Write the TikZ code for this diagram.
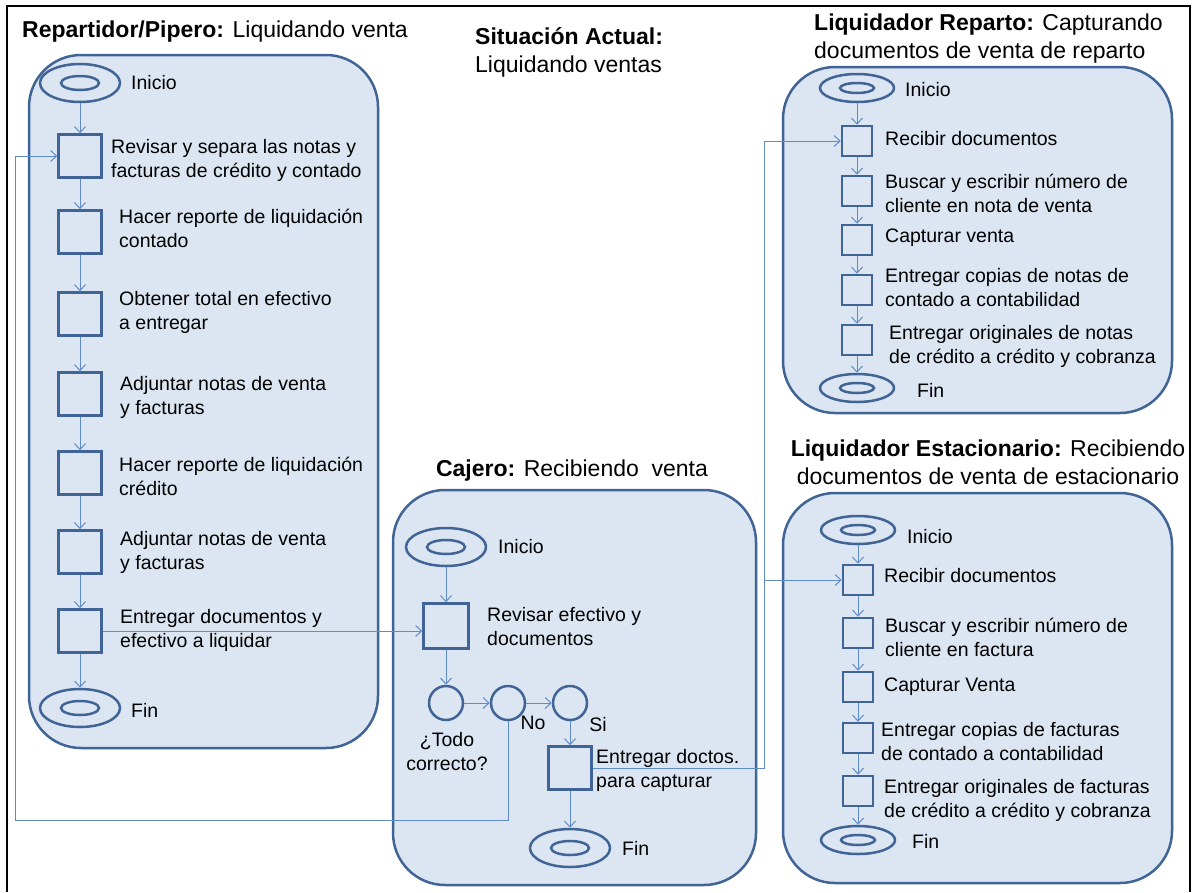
\documentclass[tikz,border=0pt]{standalone}
\usepackage{fontspec}
\setmainfont{Liberation Sans}
\usetikzlibrary{shapes.geometric,arrows.meta}
\definecolor{panelfill}{RGB}{220,230,242}
\definecolor{panelline}{RGB}{65,100,150}
\definecolor{flowline}{RGB}{95,140,200}
\newcommand{\bodyfont}{\fontsize{19.5}{24}\selectfont}
\newcommand{\headfont}{\fontsize{23}{28}\selectfont}
\tikzstyle{panel}=[draw=panelline, fill=panelfill, line width=2.5pt, rounded corners=52pt]
\tikzstyle{act}=[rectangle, draw=panelline, line width=2.5pt, minimum size=43pt, inner sep=0]
\tikzstyle{smallact}=[act, minimum size=30pt]
\tikzstyle{decision}=[circle, draw=panelline, line width=2.5pt, minimum size=34pt, inner sep=0]
\tikzstyle{term}=[%
	ellipse, draw=panelline, line width=2.5pt, minimum width=80pt, minimum height=38pt, inner sep=0,
	path picture={\draw[panelline, line width=2.5pt] (path picture bounding box.center) ellipse [x radius=19pt, y radius=7pt];}%
]
\tikzstyle{smallterm}=[%
	ellipse, draw=panelline, line width=2.5pt, minimum width=74pt, minimum height=28pt, inner sep=0,
	path picture={\draw[panelline, line width=2.5pt] (path picture bounding box.center) ellipse [x radius=17pt, y radius=5pt];}%
]
\tikzstyle{flow}=[draw=flowline, line width=1pt, ->]
\tikzstyle{txt}=[anchor=west, align=left, inner sep=0, font=\bodyfont]
\tikzstyle{head}=[inner sep=0, font=\headfont]

\begin{document}
\begin{tikzpicture}[x=1pt, y=-1pt, >={Straight Barb[length=6pt,width=11pt]}]
	\useasboundingbox (0,0) rectangle (1194,892);
	\draw[line width=2pt] (7,892) -- (7,6) -- (1190,6) -- (1190,892);

	% swimlanes
	\draw[panel] (29,55) rectangle (378,748);
	\draw[panel] (393,490) rectangle (756,885);
	\draw[panel] (783,67) rectangle (1172,413);
	\draw[panel] (783,493) rectangle (1172,883);

	\node[head, anchor=west] (tpip) at (22,32) {\textbf{Repartidor/Pipero:} Liquidando venta};
	\node[head, anchor=west, align=left] (tsit) at (475,52) {\textbf{Situación Actual:}\\Liquidando ventas};
	\node[head] (tcaj) at (572,471) {\textbf{Cajero:} Recibiendo\ \ venta};
	\node[head, anchor=west, align=left] (trep) at (814,39) {\textbf{Liquidador Reparto:} Capturando\\documentos de venta de reparto};
	\node[head, align=center] (test) at (988,462) {\textbf{Liquidador Estacionario:} Recibiendo\\documentos de venta de estacionario};

	% repartidor
	\node[term] (lini) at (80,83) {};
	\node[act] (l1) at (80,156) {};
	\node[act] (l2) at (80,232) {};
	\node[act] (l3) at (80,314) {};
	\node[act] (l4) at (80,394) {};
	\node[act] (l5) at (80,473) {};
	\node[act] (l6) at (80,552) {};
	\node[act] (l7) at (80,631) {};
	\node[term] (lfin) at (80,708) {};

	\node[txt] (linit) at (131,83) {Inicio};
	\node[txt] (l1t) at (111,160) {Revisar y separa las notas y\\facturas de crédito y contado};
	\node[txt] (l2t) at (119,228) {Hacer reporte de liquidación\\contado};
	\node[txt] (l3t) at (119,312) {Obtener total en efectivo\\a entregar};
	\node[txt] (l4t) at (120,397) {Adjuntar notas de venta\\y facturas};
	\node[txt] (l5t) at (119,476) {Hacer reporte de liquidación\\crédito};
	\node[txt] (l6t) at (120,552) {Adjuntar notas de venta\\y facturas};
	\node[txt] (l7t) at (120,630) {Entregar documentos y\\efectivo a liquidar};
	\node[txt] (lfint) at (131,710) {Fin};

	% cajero
	\node[term] (cini) at (446,547) {};
	\node[act, minimum size=45pt] (c1) at (446,626) {};
	\node[decision] (d1) at (446,703) {};
	\node[decision] (d2) at (508,703) {};
	\node[decision] (d3) at (570,703) {};
	\node[act] (c2) at (570,768) {};
	\node[term] (cfin) at (570,848) {};

	\node[txt] (cinit) at (498,547) {Inicio};
	\node[txt] (c1t) at (487,627) {Revisar efectivo y\\documentos};
	\node[font=\bodyfont, align=center, inner sep=0] (d1t) at (447,752) {¿Todo\\correcto?};
	\node[font=\bodyfont, inner sep=0] (d2t) at (533,723) {No};
	\node[font=\bodyfont, inner sep=0] (d3t) at (598,725) {Si};
	\node[txt] (c2t) at (596,770) {Entregar doctos.\\para capturar};
	\node[txt] (cfint) at (622,848) {Fin};

	% liquidador reparto
	\node[smallterm] (rini) at (857,88) {};
	\node[smallact] (r1) at (857,141) {};
	\node[smallact] (r2) at (857,191) {};
	\node[smallact] (r3) at (857,240) {};
	\node[smallact] (r4) at (857,290) {};
	\node[smallact] (r5) at (857,340) {};
	\node[smallterm] (rfin) at (857,388) {};

	\node[txt] (rinit) at (905,90) {Inicio};
	\node[txt] (r1t) at (885,139) {Recibir documentos};
	\node[txt] (r2t) at (885,193) {Buscar y escribir número de\\cliente en nota de venta};
	\node[txt] (r3t) at (885,238) {Capturar venta};
	\node[txt] (r4t) at (885,288) {Entregar copias de notas de\\contado a contabilidad};
	\node[txt] (r5t) at (889,346) {Entregar originales de notas\\de crédito a crédito y cobranza};
	\node[txt] (rfint) at (917,390) {Fin};

	% liquidador estacionario
	\node[smallterm] (eini) at (858,530) {};
	\node[smallact] (e1) at (858,580) {};
	\node[smallact] (e2) at (858,633) {};
	\node[smallact] (e3) at (858,687) {};
	\node[smallact] (e4) at (858,738) {};
	\node[smallact] (e5) at (858,791) {};
	\node[smallterm] (efin) at (858,840) {};

	\node[txt] (einit) at (907,537) {Inicio};
	\node[txt] (e1t) at (884,576) {Recibir documentos};
	\node[txt] (e2t) at (885,637) {Buscar y escribir número de\\cliente en factura};
	\node[txt] (e3t) at (884,687) {Capturar Venta};
	\node[txt] (e4t) at (881,742) {Entregar copias de facturas\\de contado a contabilidad};
	\node[txt] (e5t) at (884,800) {Entregar originales de facturas\\de crédito a crédito y cobranza};
	\node[txt] (efint) at (912,841) {Fin};

	% flows
	\path (lini) edge[flow] (l1) (l1) edge[flow] (l2) (l2) edge[flow] (l3) (l3) edge[flow] (l4)
		(l4) edge[flow] (l5) (l5) edge[flow] (l6) (l6) edge[flow] (l7) (l7) edge[flow] (lfin);
	\path (cini) edge[flow] (c1) (c1) edge[flow] (d1) (d1) edge[flow] (d2) (d2) edge[flow] (d3)
		(d3) edge[flow] (c2) (c2) edge[flow] (cfin);
	\path (rini) edge[flow] (r1) (r1) edge[flow] (r2) (r2) edge[flow] (r3) (r3) edge[flow] (r4)
		(r4) edge[flow] (r5) (r5) edge[flow] (rfin);
	\path (eini) edge[flow] (e1) (e1) edge[flow] (e2) (e2) edge[flow] (e3) (e3) edge[flow] (e4)
		(e4) edge[flow] (e5) (e5) edge[flow] (efin);

	\draw[flow] (l7.east) -- (l7.east -| c1.west);

	\coordinate (back) at (15,820);
	\draw[flow] (d2.south) |- (back) |- (l1.west);

	\coordinate (bus) at (764,769);
	\draw[flow] (c2.east) -| (bus |- r1.west) -- (r1.west);
	\draw[flow] (bus |- e1.west) -- (e1.west);
\end{tikzpicture}
\end{document}
